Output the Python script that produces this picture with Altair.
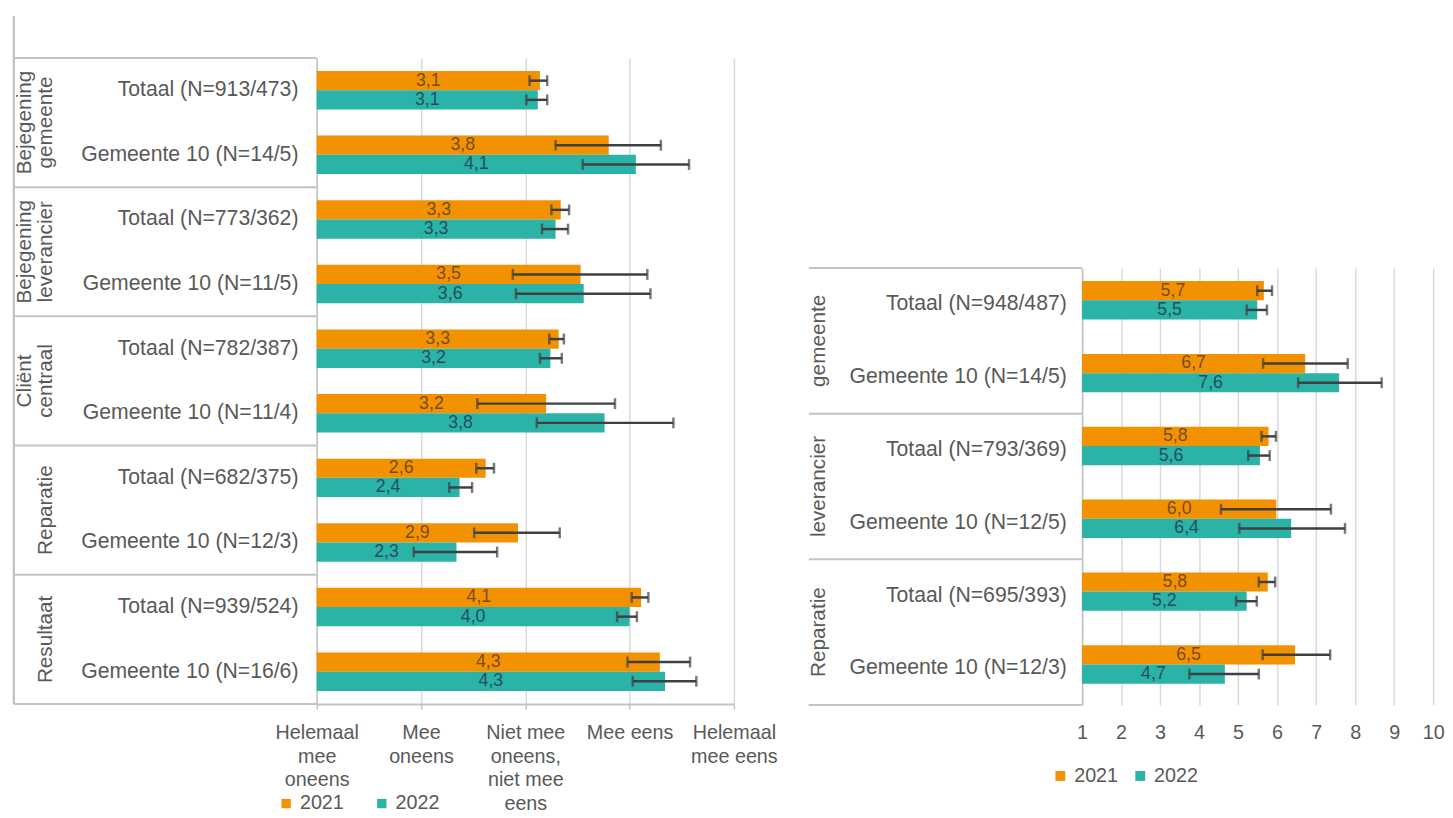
import json
import pandas as pd
import altair as alt

# ---------------- data ----------------
years = ["2021", "2022"]

left_rows = ["Totaal (N=913/473)", "Gemeente 10 (N=14/5)",
             "Totaal (N=773/362)", "Gemeente 10 (N=11/5)",
             "Totaal (N=782/387)", "Gemeente 10 (N=11/4)",
             "Totaal (N=682/375)", "Gemeente 10 (N=12/3)",
             "Totaal (N=939/524)", "Gemeente 10 (N=16/6)"]
left_group_of_row = ["Bejegening gemeente", "Bejegening gemeente",
                     "Bejegening leverancier", "Bejegening leverancier",
                     "Cliënt centraal", "Cliënt centraal",
                     "Reparatie", "Reparatie",
                     "Resultaat", "Resultaat"]
left_2021 = [3.14, 3.80, 3.34, 3.53, 3.32, 3.20, 2.62, 2.93, 4.11, 4.29]
left_2021_lo = [3.04, 3.29, 3.25, 2.88, 3.23, 2.54, 2.53, 2.51, 4.02, 3.98]
left_2021_hi = [3.21, 4.30, 3.42, 4.17, 3.37, 3.86, 2.70, 3.33, 4.18, 4.58]
left_2022 = [3.12, 4.06, 3.29, 3.56, 3.24, 3.76, 2.37, 2.34, 4.00, 4.34]
left_2022_lo = [3.01, 3.55, 3.16, 2.91, 3.14, 3.11, 2.27, 1.93, 3.88, 4.03]
left_2022_hi = [3.21, 4.57, 3.41, 4.20, 3.35, 4.42, 2.49, 2.73, 4.07, 4.64]
left_group_first = ["Totaal (N=913/473)", "Totaal (N=773/362)", "Totaal (N=782/387)",
                    "Totaal (N=682/375)", "Totaal (N=939/524)"]
left_group_line1 = ["Bejegening", "Bejegening", "Cliënt", "", ""]
left_group_line2 = ["gemeente", "leverancier", "centraal", "Reparatie", "Resultaat"]
left_tick_values = [1, 2, 3, 4, 5]
left_tick_labels = [["Helemaal", "mee", "oneens"], ["Mee", "oneens"],
                    ["Niet mee", "oneens,", "niet mee", "eens"], ["Mee eens"],
                    ["Helemaal", "mee eens"]]

right_rows = ["Totaal (N=948/487)", "Gemeente 10 (N=14/5)",
              "Totaal (N=793/369)", "Gemeente 10 (N=12/5)",
              "Totaal (N=695/393)", "Gemeente 10 (N=12/3)"]
right_group_of_row = ["gemeente", "gemeente", "leverancier", "leverancier",
                      "Reparatie", "Reparatie"]
right_2021 = [5.66, 6.72, 5.78, 5.98, 5.76, 6.46]
right_2021_lo = [5.49, 5.64, 5.60, 4.56, 5.53, 5.63]
right_2021_hi = [5.87, 7.81, 5.97, 7.38, 5.95, 7.36]
right_2022 = [5.49, 7.59, 5.56, 6.36, 5.22, 4.66]
right_2022_lo = [5.22, 6.54, 5.26, 5.03, 4.95, 3.75]
right_2022_hi = [5.74, 8.68, 5.81, 7.74, 5.48, 5.53]
right_group_first = ["Totaal (N=948/487)", "Totaal (N=793/369)", "Totaal (N=695/393)"]
right_group_line1 = ["", "", ""]
right_group_line2 = ["gemeente", "leverancier", "Reparatie"]
right_tick_values = [1, 2, 3, 4, 5, 6, 7, 8, 9, 10]

# ---------------- style ----------------
ORANGE = "#F39200"
TEAL = "#2BB3A7"
TXT21 = "#7A4A1A"
TXT22 = "#24505C"
ERR = "#404040"
GRID = "#D9D9D9"
BOX = "#C4C4C4"
LABEL = "#595959"
FONT = "Liberation Sans"


def long_df(rows, groups, v21, lo21, hi21, v22, lo22, hi22):
    recs = []
    for i, r in enumerate(rows):
        recs.append(dict(row=r, group=groups[i], year="2021", value=v21[i], lo=lo21[i], hi=hi21[i]))
        recs.append(dict(row=r, group=groups[i], year="2022", value=v22[i], lo=lo22[i], hi=hi22[i]))
    return pd.DataFrame(recs)


def panel(df, rows, gfirst, gline1, gline2, xmin, xmax, xaxis, width, height,
          off_pad, box_left, line1_x, line2_x, y_label_pad, legend,
          extra_layers):
    xs = alt.Scale(domain=[xmin, xmax], nice=False, zero=False)
    yaxis = alt.Axis(title=None, labelFontSize=21.5, labelColor=LABEL, labelPadding=y_label_pad,
                     ticks=False, domainColor=BOX, domainWidth=1.5, labelLimit=400, grid=False)
    Y = alt.Y("row:N", sort=rows, scale=alt.Scale(paddingInner=0, paddingOuter=0), axis=yaxis)
    YO = alt.YOffset("year:N", sort=years, scale=alt.Scale(paddingOuter=off_pad, paddingInner=0))

    base = alt.Chart(df)
    bars = base.mark_bar().encode(
        x=alt.X("value:Q", scale=xs, axis=xaxis),
        x2=alt.datum(xmin),
        y=Y, yOffset=YO,
        color=alt.Color("year:N", scale=alt.Scale(domain=years, range=[ORANGE, TEAL]), legend=legend),
    )
    labels = []
    for yr, col in zip(years, [TXT21, TXT22]):
        labels.append(
            base.transform_filter(alt.datum.year == yr)
            .transform_calculate(mid=f"({xmin} + datum.value) / 2",
                                 lab="replace(format(datum.value, '.1f'), '.', ',')")
            .mark_text(fontSize=18, color=col, align="center", baseline="middle")
            .encode(x=alt.X("mid:Q", scale=xs, axis=xaxis), y=Y, yOffset=YO, text="lab:N")
        )
    err = base.mark_rule(color=ERR, strokeWidth=2.5).encode(
        x=alt.X("lo:Q", scale=xs, axis=xaxis), x2="hi:Q", y=Y, yOffset=YO)
    caps = base.transform_fold(["lo", "hi"], as_=["end", "pos"]).mark_tick(
        color=ERR, thickness=2.5, size=11).encode(
        x=alt.X("pos:Q", scale=xs, axis=xaxis), y=Y, yOffset=YO)

    gdf = pd.DataFrame({"row": gfirst, "l1": gline1, "l2": gline2})
    gbase = alt.Chart(gdf)
    Yg_top = alt.Y("row:N", sort=rows, bandPosition=0, scale=alt.Scale(paddingInner=0, paddingOuter=0), axis=yaxis)
    Yg_mid = alt.Y("row:N", sort=rows, bandPosition=1, scale=alt.Scale(paddingInner=0, paddingOuter=0), axis=yaxis)
    seps = gbase.mark_rule(color=BOX, strokeWidth=2).encode(
        y=Yg_top, x=alt.value(box_left), x2=alt.value(0))
    bottom = gbase.mark_rule(color=BOX, strokeWidth=2).encode(
        y=alt.value(height), x=alt.value(box_left), x2=alt.value(0))
    t1 = gbase.mark_text(angle=270, fontSize=21, color=LABEL, align="center", baseline="alphabetic").encode(
        y=Yg_mid, x=alt.value(line1_x), text="l1:N")
    t2 = gbase.mark_text(angle=270, fontSize=21, color=LABEL, align="center", baseline="alphabetic").encode(
        y=Yg_mid, x=alt.value(line2_x), text="l2:N")

    layers = [bars, err, caps] + labels + [seps, bottom, t1, t2] + [l(gbase) for l in extra_layers]
    return alt.layer(*layers).properties(width=width, height=height)


# ---------------- left panel ----------------
ldf = long_df(left_rows, left_group_of_row, left_2021, left_2021_lo, left_2021_hi,
              left_2022, left_2022_lo, left_2022_hi)
lab_expr = " : ".join(f"datum.value == {v} ? {json.dumps(t)}"
                      for v, t in zip(left_tick_values, left_tick_labels)) + " : ''"
left_xaxis = alt.Axis(title=None, values=left_tick_values, labelExpr=lab_expr, labelFontSize=20,
                      labelColor=LABEL, labelLineHeight=24, labelBaseline="top",
                      labelFlush=False, labelOverlap=False, labelPadding=14,
                      tickSize=5, tickColor=BOX, tickWidth=1.5, domainColor=BOX, domainWidth=2,
                      gridColor=GRID, gridWidth=1.5)
LW, LH = 423, 655
left_legend = alt.Legend(orient="none", legendX=-41, legendY=746, direction="horizontal", title=None,
                         symbolType="square", symbolSize=90, symbolStrokeWidth=0, labelFontSize=20,
                         labelColor=LABEL, columnPadding=28, labelOffset=4, padding=0)
left_extra = [
    lambda b: b.mark_rule(color=BOX, strokeWidth=2).encode(
        x=alt.value(-307), y=alt.value(-42), y2=alt.value(LH)),
    lambda b: b.mark_rule(color="white", strokeWidth=1).encode(
        x=alt.value(-312), y=alt.value(0), y2=alt.value(1)),
    lambda b: b.mark_rule(color="white", strokeWidth=1).encode(
        x=alt.value(LW), x2=alt.value(LW + 48), y=alt.value(0)),
]
left = panel(ldf, left_rows, left_group_first, left_group_line1, left_group_line2,
             1, 5, left_xaxis, LW, LH, 0.68, -307, -290, -268, 19, left_legend, left_extra)

# ---------------- right panel ----------------
rdf = long_df(right_rows, right_group_of_row, right_2021, right_2021_lo, right_2021_hi,
              right_2022, right_2022_lo, right_2022_hi)
right_xaxis = alt.Axis(title=None, values=right_tick_values, labelFontSize=20, labelColor=LABEL,
                       labelBaseline="top", labelFlush=False, labelOverlap=False, labelPadding=18,
                       ticks=False, domain=False, gridColor=GRID, gridWidth=1.5)
RW, RH = 356, 443
right_legend = alt.Legend(orient="none", legendX=-32, legendY=505, direction="horizontal", title=None,
                          symbolType="square", symbolSize=100, symbolStrokeWidth=0, labelFontSize=20,
                          labelColor=LABEL, columnPadding=12, labelOffset=4, padding=0)
right_extra = [
    lambda b: b.mark_rule(color="white", strokeWidth=1).encode(
        x=alt.value(-290), y=alt.value(0), y2=alt.value(1)),
]
right = panel(rdf, right_rows, right_group_first, right_group_line1, right_group_line2,
              1, 10, right_xaxis, RW, RH, 0.99, -277, -283, -261, 16, right_legend, right_extra)

# empty spacer that lowers the right panel
spacer = alt.Chart(pd.DataFrame({"a": [0]})).mark_rule(color="white").encode(
    x=alt.value(0), y=alt.value(0), y2=alt.value(1)).properties(width=1, height=212)
right_col = (alt.vconcat(spacer, right, spacing=0)
             .resolve_scale(color="independent").resolve_legend(color="independent"))

chart = (
    alt.hconcat(left, right_col, spacing=3)
    .resolve_scale(color="independent")
    .resolve_legend(color="independent")
    .properties(padding={"left": 0, "top": 2, "right": 0, "bottom": 0})
    .configure(font=FONT)
    .configure_view(stroke=None)
)

chart.save("out.html", embed_options={"renderer": "svg", "actions": False})
